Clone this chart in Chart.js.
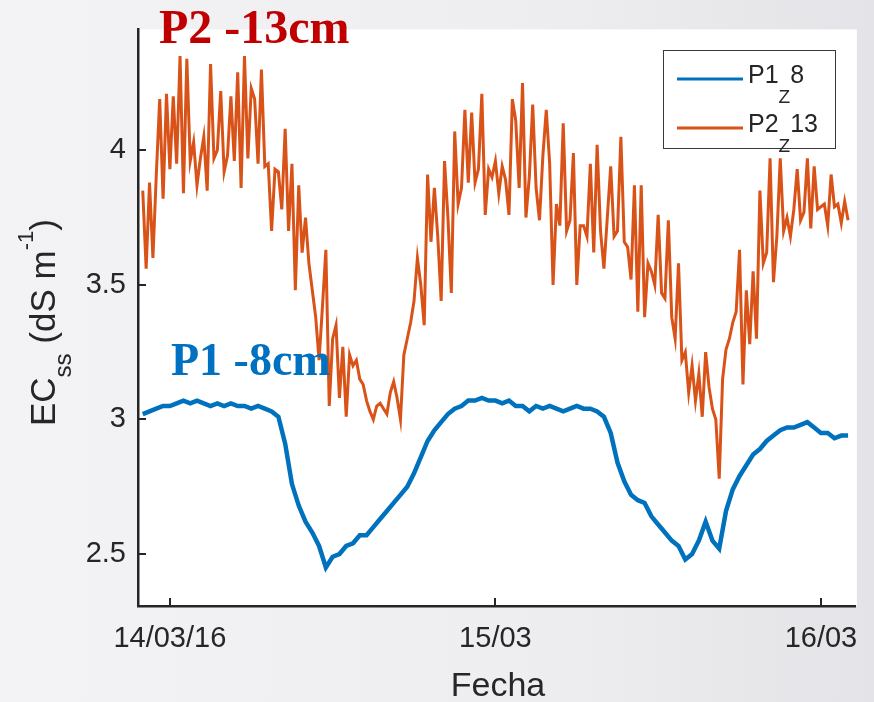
<!DOCTYPE html>
<html>
<head>
<meta charset="utf-8">
<script src="https://cdn.jsdelivr.net/npm/chart.js@4.4.0/dist/chart.umd.min.js"></script>
<style>
    html, body { margin: 0; padding: 0; overflow: hidden; }
    body { width: 874px; height: 702px; background: linear-gradient(to right, #f3f3f5 0%, #eeeef0 60%, #e4e4e8 100%); }
    #wrap { position: relative; width: 874px; height: 702px; }
</style>
</head>
<body>
<div id="wrap"><canvas id="chart"></canvas></div>
<script>
/** Data (hours counted from 14/03/16 00:00) */
const p1Start = -2.0;
const p1Step = 0.5;
const p1Values = [
    3.02, 3.03, 3.04, 3.05, 3.05, 3.06, 3.07, 3.06, 3.07, 3.06,
    3.05, 3.06, 3.05, 3.06, 3.05, 3.05, 3.04, 3.05, 3.04, 3.03,
    3.01, 2.91, 2.76, 2.68, 2.62, 2.58, 2.53, 2.45, 2.49, 2.50,
    2.53, 2.54, 2.57, 2.57, 2.60, 2.63, 2.66, 2.69, 2.72, 2.75,
    2.80, 2.86, 2.92, 2.96, 2.99, 3.02, 3.04, 3.05, 3.07, 3.07,
    3.08, 3.07, 3.07, 3.06, 3.07, 3.05, 3.05, 3.03, 3.05, 3.04,
    3.05, 3.04, 3.03, 3.04, 3.05, 3.04, 3.04, 3.03, 3.01, 2.95,
    2.84, 2.77, 2.72, 2.70, 2.69, 2.64, 2.61, 2.58, 2.55, 2.53,
    2.48, 2.50, 2.55, 2.62, 2.55, 2.52, 2.66, 2.74, 2.79, 2.83,
    2.87, 2.89, 2.92, 2.94, 2.96, 2.97, 2.97, 2.98, 2.99, 2.97,
    2.95, 2.95, 2.93, 2.94, 2.94
];
const p2Start = -2.0;
const p2Step = 0.25;
const p2Values = [
    3.85, 3.56, 3.88, 3.60, 3.91, 4.19, 3.82, 4.21, 3.93, 4.20,
    3.95, 4.35, 3.84, 4.34, 3.96, 4.03, 3.87, 3.97, 4.05, 3.85,
    4.32, 3.97, 4.00, 4.22, 3.92, 3.98, 4.20, 3.96, 4.29, 3.86,
    4.35, 3.97, 4.23, 4.19, 3.95, 4.30, 3.94, 3.95, 3.70, 3.93,
    3.92, 3.78, 4.08, 3.70, 3.95, 3.48, 3.87, 3.62, 3.75, 3.58,
    3.48, 3.38, 3.22, 3.42, 3.63, 3.05, 3.30, 3.35, 3.08, 3.27,
    3.01, 3.24, 3.20, 3.22, 3.15, 3.13, 3.07, 3.03, 3.00, 3.05,
    3.06, 3.04, 3.02, 3.10, 3.14, 3.08, 3.00, 3.24, 3.30, 3.36,
    3.44, 3.60, 3.50, 3.35, 3.91, 3.66, 3.86, 3.68, 3.44, 3.96,
    3.75, 3.47, 4.07, 3.80, 3.86, 4.15, 3.88, 4.14, 3.88, 3.93,
    4.21, 3.76, 3.93, 3.90, 3.96, 3.84, 3.94, 3.89, 3.76, 4.19,
    4.11, 3.86, 4.25, 3.75, 3.90, 4.17, 3.86, 3.74, 3.98, 4.15,
    3.95, 3.50, 3.80, 3.72, 4.10, 3.70, 3.74, 3.99, 3.50, 3.72,
    3.72, 3.68, 3.95, 3.62, 4.02, 3.70, 3.56, 3.75, 3.94, 3.68,
    3.70, 4.05, 3.66, 3.64, 3.52, 3.87, 3.40, 3.87, 3.38, 3.58,
    3.55, 3.50, 3.76, 3.47, 3.45, 3.74, 3.38, 3.30, 3.58, 3.22,
    3.25, 3.10, 3.20, 3.07, 3.17, 3.01, 3.25, 3.12, 3.04, 3.00,
    2.78, 3.15, 3.26, 3.30, 3.36, 3.40, 3.63, 3.13, 3.48, 3.28,
    3.55, 3.30, 3.85, 3.58, 3.62, 3.97, 3.51, 3.68, 3.97, 3.70,
    3.75, 3.68, 3.78, 3.93, 3.74, 3.77, 3.97, 3.71, 3.94, 3.78,
    3.79, 3.80, 3.72, 3.91, 3.79, 3.80, 3.73, 3.81, 3.74
];
const tickHours = [0, 24, 48];
const tickLabels = ['14/03/16', '15/03', '16/03'];
const yTicks = [2.5, 3, 3.5, 4];
const legendMain = ['P1', 'P2'];
const legendSub = ['Z', 'Z'];
const legendTail = ['8', '13'];
const noteP1 = 'P1 -8cm';
const noteP2 = 'P2 -13cm';

/** Helpers */
const SANS = '"Liberation Sans", Arial, Helvetica, sans-serif';
const SERIF = '"Liberation Serif", "Times New Roman", serif';
const INK = '#262626';
const BLUE = '#0072BD';
const ORANGE = '#D95319';

function toPoints(start, step, values) {
    return values.map((v, i) => ({ x: start + i * step, y: v }));
}

// draws a run of [text, size, shift] pieces, left to right
function drawRich(ctx, parts, x, y, family) {
    let cx = x;
    parts.forEach(p => {
        ctx.font = p[1] + 'px ' + family;
        ctx.fillText(p[0], cx, y + p[2]);
        cx += ctx.measureText(p[0]).width;
    });
}

const matlabLook = {
    id: 'matlabLook',
    beforeDraw: function (chart) {
        const { ctx, chartArea: a } = chart;
        ctx.save();
        ctx.fillStyle = '#ffffff';
        ctx.fillRect(a.left, a.top, a.right - a.left + 1, a.bottom - a.top);
        ctx.restore();
    },
    afterDatasetsDraw: function (chart) {
        const { ctx, chartArea: a } = chart;
        const xs = chart.scales.x, ys = chart.scales.y;
        ctx.save();
        ctx.strokeStyle = INK;
        ctx.lineWidth = 2;
        ctx.beginPath();
        tickHours.forEach(h => {
            const px = Math.round(xs.getPixelForValue(h));
            ctx.moveTo(px, a.bottom);
            ctx.lineTo(px, a.bottom - 8);
        });
        yTicks.forEach(v => {
            const py = Math.round(ys.getPixelForValue(v));
            ctx.moveTo(a.left, py);
            ctx.lineTo(a.left + 8, py);
        });
        ctx.stroke();
        ctx.restore();
    },
    afterDraw: function (chart) {
        const ctx = chart.ctx;
        ctx.save();
        ctx.fillStyle = INK;
        ctx.textBaseline = 'alphabetic';

        // x title
        ctx.textAlign = 'center';
        ctx.font = '34px ' + SANS;
        ctx.fillText('Fecha', 498, 696);

        // y title
        ctx.textAlign = 'left';
        ctx.save();
        ctx.translate(55, 426);
        ctx.rotate(-Math.PI / 2);
        drawRich(ctx, [['EC', 35, 0], ['ss', 24, 16], [' (dS m', 35, 0], ['-1', 22, -22], [')', 35, 0]], 0, 0, SANS);
        ctx.restore();

        // depth notes
        ctx.font = 'bold 48px ' + SERIF;
        ctx.fillStyle = '#C00000';
        ctx.fillText(noteP2, 159, 43);
        ctx.font = 'bold 46px ' + SERIF;
        ctx.fillStyle = '#0070C0';
        ctx.fillText(noteP1, 171, 375);

        // legend
        ctx.fillStyle = '#ffffff';
        ctx.fillRect(663, 50, 172, 98);
        ctx.strokeStyle = '#3a3a3a';
        ctx.lineWidth = 1;
        ctx.strokeRect(663.5, 50.5, 172, 98);
        const colors = [BLUE, ORANGE];
        const rows = [79, 128];
        for (let i = 0; i < legendMain.length; i++) {
            ctx.strokeStyle = colors[i];
            ctx.lineWidth = 3;
            ctx.beginPath();
            ctx.moveTo(677, rows[i]);
            ctx.lineTo(743, rows[i]);
            ctx.stroke();
            ctx.fillStyle = INK;
            drawRich(ctx, [[legendMain[i], 25, 0], [legendSub[i], 19, 20], [legendTail[i], 25, 0]], 748, rows[i] + 4, SANS);
        }
        ctx.restore();
    }
};

new Chart(document.getElementById('chart'), {
    type: 'line',
    data: {
        datasets: [{
            label: 'P1_Z8',
            data: toPoints(p1Start, p1Step, p1Values),
            borderColor: BLUE,
            borderWidth: 4.5,
            pointRadius: 0,
            tension: 0
        }, {
            label: 'P2_Z13',
            data: toPoints(p2Start, p2Step, p2Values),
            borderColor: ORANGE,
            borderWidth: 3,
            pointRadius: 0,
            tension: 0
        }]
    },
    options: {
        responsive: true,
        maintainAspectRatio: false,
        animation: false,
        layout: { padding: { left: 0, right: 16, top: 26, bottom: 0 } },
        plugins: { legend: { display: false }, tooltip: { enabled: false } },
        scales: {
            x: {
                type: 'linear',
                min: -2.35,
                max: 50.57,
                afterFit: function (s) { s.height = 96; },
                afterBuildTicks: function (s) { s.ticks = tickHours.map(h => ({ value: h })); },
                grid: { display: false, drawTicks: false },
                border: { display: true, color: INK, width: 2.5 },
                ticks: {
                    padding: 16,
                    color: INK,
                    autoSkip: false,
                    font: { family: SANS, size: 29 },
                    maxRotation: 0,
                    callback: function (v) { return tickLabels[tickHours.indexOf(v)]; }
                }
            },
            y: {
                min: 2.307,
                max: 4.449,
                afterFit: function (s) { s.width = 138; },
                afterBuildTicks: function (s) { s.ticks = yTicks.map(v => ({ value: v })); },
                grid: { display: false, drawTicks: false },
                border: { display: true, color: INK, width: 2.5 },
                ticks: {
                    padding: 12,
                    color: INK,
                    autoSkip: false,
                    font: { family: SANS, size: 29 },
                    callback: function (v) { return String(v); }
                }
            }
        }
    },
    plugins: [matlabLook]
});
</script>
</body>
</html>
